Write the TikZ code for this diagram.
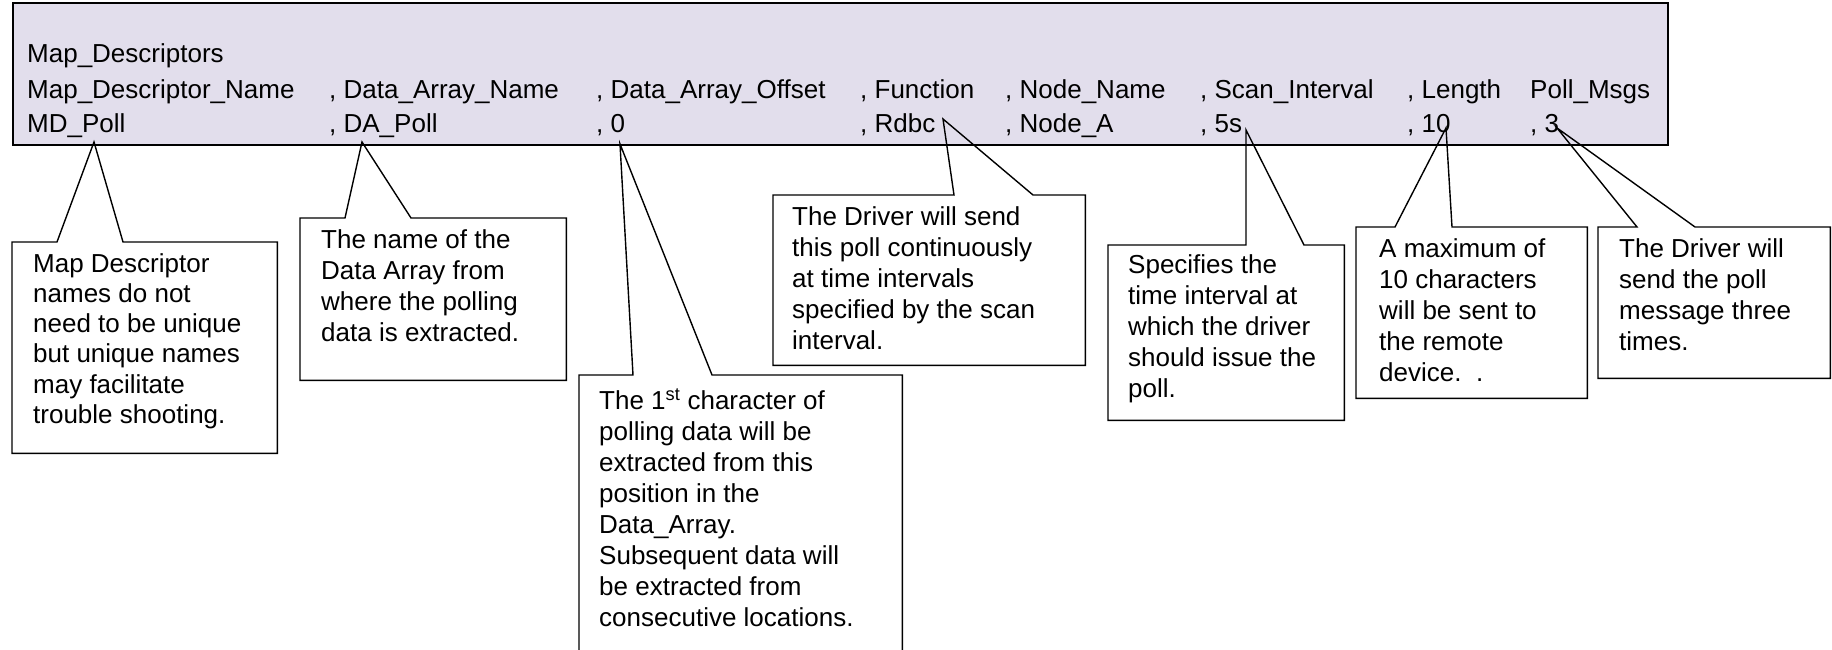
\documentclass[tikz,border=0pt]{standalone}
\usepackage{fontspec}
\setmainfont{Liberation Sans}
\usepackage{xcolor}
\usetikzlibrary{positioning}

\definecolor{headfill}{RGB}{226,222,236}

\begin{document}
\begin{tikzpicture}[x=1pt, y=1pt,
    txt/.style={font=\fontsize{26}{31}\selectfont, inner sep=0pt, anchor=base west},
    note/.style={txt, align=left, anchor=north west, execute at begin node={\rule{0pt}{24pt}}},
    calloutbox/.style={minimum width=#1, inner sep=0pt, anchor=north west},
    edge/.style={line width=1.4pt, line join=miter}]
  \useasboundingbox (0,0) rectangle (1832,650);

  % Header block with the map descriptor
  \node[fill=headfill, draw, line width=2pt, minimum width=1655pt, minimum height=142pt,
        inner sep=0pt, anchor=north west] (head) at (12,648) {};
  \node[txt] (title) at (27,587) {Map\_Descriptors};
  \foreach \x/\fld/\val [count=\i] in {
      27/{Map\_Descriptor\_Name}/{MD\_Poll},
      329/{, Data\_Array\_Name}/{, DA\_Poll},
      596/{, Data\_Array\_Offset}/{, 0},
      860/{, Function}/{, Rdbc},
      1005/{, Node\_Name}/{, Node\_A},
      1200/{, Scan\_Interval}/{, 5s},
      1407/{, Length}/{, 10},
      1530/{Poll\_Msgs}/{, 3}}
  {
    \node[txt] (fld\i) at (\x,551) {\fld};
    \node[txt] (val\i) at (\x,517) {\val};
  }

  % Pointer tips
  \coordinate (tip1) at (94,508);
  \coordinate (tip2) at (362,508);
  \coordinate (tip3) at (620,506);
  \coordinate (tip4) at (943,531);
  \coordinate (tip5) at (1246,520);
  \coordinate (tip6) at (1446,522);
  \coordinate (tip7) at (1557,522);

  % Map descriptor name
  \node[calloutbox=265pt, minimum height=211pt] (box1) at (12,408) {};
  \draw[edge] (box1.north west) -- ([xshift=45pt]box1.north west) -- (tip1)
    -- ([xshift=111pt]box1.north west) -- (box1.north east) -- (box1.south east)
    -- (box1.south west) -- cycle;
  \node[note, font=\fontsize{26}{30.3}\selectfont] (note1) at (33,397) {Map Descriptor\\names do not\\need to be unique\\but unique names\\may facilitate\\trouble shooting.};

  % Data array name
  \node[calloutbox=266pt, minimum height=162pt] (box2) at (300,432) {};
  \draw[edge] (box2.north west) -- ([xshift=45pt]box2.north west) -- (tip2)
    -- ([xshift=111pt]box2.north west) -- (box2.north east) -- (box2.south east)
    -- (box2.south west) -- cycle;
  \node[note] (note2) at (321,421) {The name of the\\Data Array from\\where the polling\\data is extracted.};

  % Data array offset
  \node[calloutbox=323pt, minimum height=290pt] (box3) at (579,275) {};
  \draw[edge] (box3.north west) -- ([xshift=54pt]box3.north west) -- (tip3)
    -- ([xshift=133pt]box3.north west) -- (box3.north east) -- (box3.south east)
    -- (box3.south west) -- cycle;
  \node[note] (note3) at (599,261) {The 1\textsuperscript{st} character of\\polling data will be\\extracted from this\\position in the\\Data\_Array.\\Subsequent data will\\be extracted from\\consecutive locations.};

  % Function
  \node[calloutbox=312pt, minimum height=170pt] (box4) at (773,455) {};
  \draw[edge] (box4.north west) -- ([xshift=181pt]box4.north west) -- (tip4)
    -- ([xshift=260pt]box4.north west) -- (box4.north east) -- (box4.south east)
    -- (box4.south west) -- cycle;
  \node[note] (note4) at (792,444) {The Driver will send\\this poll continuously\\at time intervals\\specified by the scan\\interval.};

  % Scan interval
  \node[calloutbox=236pt, minimum height=175pt] (box5) at (1108,405) {};
  \draw[edge] (box5.north west) -- ([xshift=138pt]box5.north west) -- (tip5)
    -- ([xshift=196pt]box5.north west) -- (box5.north east) -- (box5.south east)
    -- (box5.south west) -- cycle;
  \node[note] (note5) at (1128,396) {Specifies the\\time interval at\\which the driver\\should issue the\\poll.};

  % Length
  \node[calloutbox=231pt, minimum height=171pt] (box6) at (1356,423) {};
  \draw[edge] (box6.north west) -- ([xshift=39pt]box6.north west) -- (tip6)
    -- ([xshift=96pt]box6.north west) -- (box6.north east) -- (box6.south east)
    -- (box6.south west) -- cycle;
  \node[note] (note6) at (1379,412) {A maximum of\\10 characters\\will be sent to\\the remote\\device.~~.};

  % Poll messages
  \node[calloutbox=232pt, minimum height=151pt] (box7) at (1598,423) {};
  \draw[edge] (box7.north west) -- ([xshift=39pt]box7.north west) -- (tip7)
    -- ([xshift=97pt]box7.north west) -- (box7.north east) -- (box7.south east)
    -- (box7.south west) -- cycle;
  \node[note] (note7) at (1619,412) {The Driver will\\send the poll\\message three\\times.};
\end{tikzpicture}
\end{document}
